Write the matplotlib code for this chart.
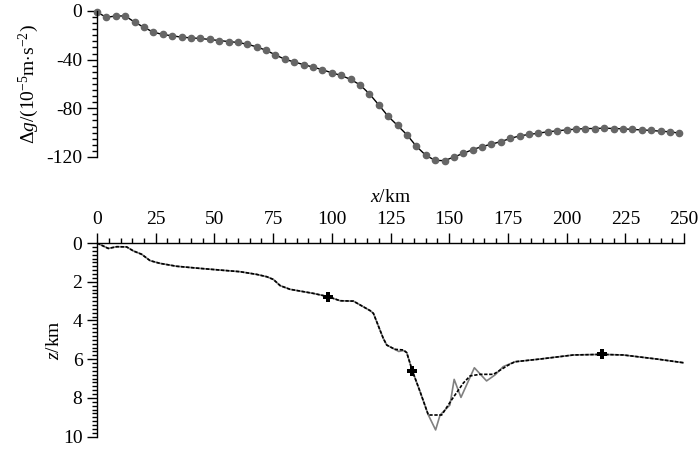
import matplotlib
matplotlib.use("Agg")
import matplotlib.pyplot as plt
from matplotlib.ticker import MultipleLocator

plt.rcParams['font.family'] = 'Liberation Serif'
plt.rcParams['mathtext.fontset'] = 'custom'
plt.rcParams['mathtext.rm'] = 'Liberation Serif'
plt.rcParams['mathtext.it'] = 'Liberation Serif:italic'
plt.rcParams['axes.unicode_minus'] = False

# Gravity anomaly profile (every 4 km)
grav_x = list(range(0, 252, 4))
grav_dg = [-1, -5.2, -4.1, -4.1, -9.1, -13.5, -17.4, -19.3, -20.4, -21.5,
           -22.1, -22.6, -23.4, -24.3, -25.1, -25.9, -27.3, -29.5, -32.3, -36.1,
           -39.7, -41.9, -44.1, -46.1, -48.3, -50.8, -53.0, -56.2, -60.7, -68.1,
           -77.2, -86.6, -94.1, -101.8, -111.2, -118.6, -122.8, -123.0, -120.0, -117.0,
           -113.9, -111.4, -109.5, -107.3, -104.8, -102.6, -101.5, -100.4, -99.3, -98.5,
           -97.7, -97.1, -96.6, -96.6, -96.3, -96.6, -96.8, -97.4, -97.7, -98.2,
           -98.8, -99.3, -100.4]

# Model interface (gray) and inverted interface (dashed)
model_x = [0, 4.8, 8.4, 12.6, 15.5, 19, 22.6, 26.8, 33.9, 43.9, 53.8, 60.9, 68,
           72.3, 75.1, 78, 82.2, 92.1, 98.5, 103.5, 109.2, 116.3, 117.7, 121.9,
           123.4, 126.9, 128.5, 130.5, 131.9, 134.3, 137.6, 141.1, 144.2, 146.1,
           150.3, 152.1, 155, 160.7, 165.9, 169.5, 173, 178, 188.7, 202.9, 214.9,
           224.1, 238.4, 249.7]
model_z = [0, 0.28, 0.19, 0.2, 0.41, 0.58, 0.91, 1.05, 1.2, 1.31, 1.41, 1.48, 1.62,
           1.74, 1.88, 2.2, 2.39, 2.6, 2.77, 2.98, 3.0, 3.49, 3.63, 4.92,
           5.27, 5.49, 5.6, 5.55, 5.66, 6.6, 7.68, 8.88, 9.65, 8.88,
           8.36, 7.04, 7.97, 6.44, 7.12, 6.81, 6.38, 6.13, 5.99, 5.78, 5.75,
           5.78, 5.99, 6.18]
inv_x = [0, 4.8, 8.4, 12.6, 15.5, 19, 22.6, 26.8, 33.9, 43.9, 53.8, 60.9, 68,
         72.3, 75.1, 78, 82.2, 92.1, 98.5, 103.5, 109.2, 116.3, 117.7, 121.9,
         123.4, 126.9, 130.5, 131.9, 134.3, 137.6, 141.1, 146.8, 151, 156,
         158.9, 163.1, 168.8, 175.2, 178, 188.7, 202.9, 214.9, 224.1, 238.4, 249.7]
inv_z = [0, 0.28, 0.19, 0.2, 0.41, 0.58, 0.91, 1.05, 1.2, 1.31, 1.41, 1.48, 1.62,
         1.74, 1.88, 2.2, 2.39, 2.6, 2.77, 2.98, 3.0, 3.49, 3.63, 4.92,
         5.27, 5.49, 5.52, 5.66, 6.6, 7.68, 8.88, 8.88, 8.1, 7.23,
         6.86, 6.78, 6.78, 6.3, 6.13, 5.99, 5.78, 5.75, 5.78, 5.99, 6.18]

# Control points
ctrl_x = [98.5, 134.3, 214.9]
ctrl_z = [2.77, 6.6, 5.75]

fig = plt.figure(figsize=(7, 4.54), dpi=100)
ax1 = fig.add_axes([0.1386, 0.6542, 0.8386, 0.3216])
ax2 = fig.add_axes([0.1386, 0.0381, 0.8386, 0.4266])

# Top panel
ax1.plot(grav_x, grav_dg, color='black', lw=1, marker='o', ms=4.5,
         mfc='#666666', mec='#666666', clip_on=False)
ax1.set_xlim(0, 250)
ax1.set_ylim(-120, 0)
for s in ['top', 'right', 'bottom']:
    ax1.spines[s].set_visible(False)
ax1.set_xticks([])
ax1.yaxis.set_major_locator(MultipleLocator(40))
ax1.yaxis.set_minor_locator(MultipleLocator(5))
ax1.set_ylabel(r'$\Delta g$/(10$^{-5}$m$\cdot$s$^{-2}$)', fontsize=14, labelpad=4)

# Bottom panel
ax2.plot(model_x, model_z, color='#808080', lw=1.2)
ax2.plot(inv_x, inv_z, color='black', lw=1.2, dashes=(2, 1))
ax2.plot(ctrl_x, ctrl_z, ls='none', marker='P', ms=7, mfc='black',
         mec='black', mew=0)
ax2.set_xlim(0, 250)
ax2.set_ylim(10, 0)
for s in ['bottom', 'right']:
    ax2.spines[s].set_visible(False)
ax2.xaxis.tick_top()
ax2.xaxis.set_label_position('top')
ax2.xaxis.set_major_locator(MultipleLocator(25))
ax2.xaxis.set_minor_locator(MultipleLocator(5))
ax2.yaxis.set_major_locator(MultipleLocator(2))
ax2.yaxis.set_minor_locator(MultipleLocator(0.2))
ax2.set_xlabel(r'$x$/km', fontsize=14, labelpad=7)
ax2.set_ylabel(r'$z$/km', fontsize=14, labelpad=0)

for ax in (ax1, ax2):
    ax.tick_params(which='major', length=7, width=1, labelsize=14, direction='out')
    ax.tick_params(which='minor', length=3.5, width=1, direction='out')
    for s in ax.spines.values():
        s.set_linewidth(1)

fig.savefig('out.png', dpi=100)
